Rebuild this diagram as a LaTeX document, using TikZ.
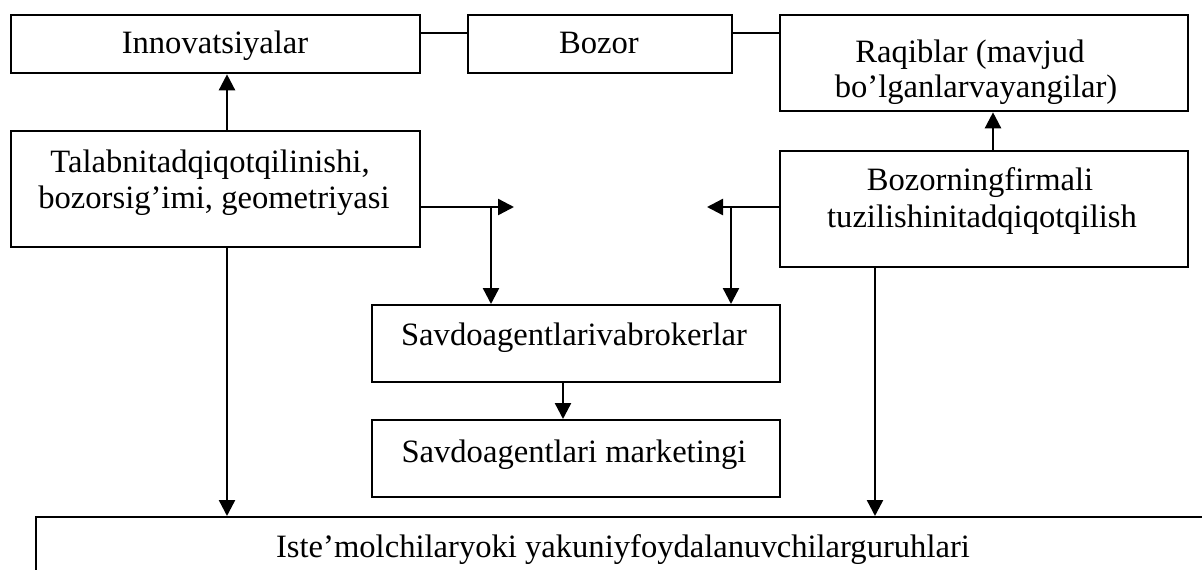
\documentclass[tikz,border=0pt]{standalone}
\usepackage{fontspec}
\setmainfont{Liberation Serif}
\usetikzlibrary{arrows.meta}
\tikzset{
  box/.style={draw=black, line width=2.3pt, rectangle, inner sep=0pt, anchor=north west},
  lbl/.style={anchor=base, inner sep=0pt, font=\fontsize{32.6}{39}\selectfont},
  conn/.style={draw=black, line width=2.4pt},
  arr/.style={conn, -{Triangle[length=16pt,width=16pt]}}
}
\begin{document}
\begin{tikzpicture}[x=1pt,y=-1pt]
\useasboundingbox (0,0) rectangle (1202,570);
\clip (0,0) rectangle (1202,570);
% boxes
\node[box, minimum width=409pt, minimum height=58pt] (inn) at (10,14) {};
\node[box, minimum width=264pt, minimum height=58pt] (boz) at (467,14) {};
\node[box, minimum width=408pt, minimum height=96pt] (raq) at (779,14) {};
\node[box, minimum width=409pt, minimum height=116pt] (tal) at (10,130) {};
\node[box, minimum width=408pt, minimum height=116pt] (bzf) at (779,150) {};
\node[box, minimum width=408pt, minimum height=77pt] (sav) at (371,304) {};
\node[box, minimum width=408pt, minimum height=77pt] (mkt) at (371,419) {};
\node[box, minimum width=1250pt, minimum height=120pt] (ist) at (35,516) {};
% texts
\node[lbl] (tinn) at (215,53) {Innovatsiyalar};
\node[lbl] (tboz) at (599,53) {Bozor};
\node[lbl] (traq1) at (970,62) {Raqiblar (mavjud};
\node[lbl] (traq2) at (976,97) {bo’lganlarvayangilar)};
\node[lbl] (ttal1) at (210,172) {Talabnitadqiqotqilinishi,};
\node[lbl] (ttal2) at (214,208) {bozorsig’imi, geometriyasi};
\node[lbl] (tbzf1) at (980,190) {Bozorningfirmali};
\node[lbl] (tbzf2) at (982,227) {tuzilishinitadqiqotqilish};
\node[lbl] (tsav) at (574,345) {Savdoagentlarivabrokerlar};
\node[lbl] (tmkt) at (574,462) {Savdoagentlari marketingi};
\node[lbl] (tist) at (623,557) {Iste’molchilaryoki yakuniyfoydalanuvchilarguruhlari};
% helper coordinates
\coordinate (ytop) at (0,33);
\coordinate (c1) at (227,0);
\coordinate (c2) at (993,0);
\coordinate (c3) at (875,0);
\coordinate (c4) at (563,0);
\coordinate (t1) at (514,207);
\coordinate (b1) at (491,207);
\coordinate (t2) at (707,207);
\coordinate (b2) at (731,207);
% connectors
\draw[conn] (inn.east |- ytop) -- (boz.west |- ytop);
\draw[conn] (boz.east |- ytop) -- (raq.west |- ytop);
\draw[arr] (tal.north -| c1) -- (inn.south -| c1);
\draw[arr] (bzf.north -| c2) -- (raq.south -| c2);
\draw[arr] (tal.south -| c1) -- (ist.north -| c1);
\draw[arr] (bzf.south -| c3) -- (ist.north -| c3);
\draw[arr] (tal.east |- t1) -- (t1);
\draw[arr] (b1) -- (b1 |- sav.north);
\draw[arr] (bzf.west |- t2) -- (t2);
\draw[arr] (b2) -- (b2 |- sav.north);
\draw[arr] (sav.south -| c4) -- (mkt.north -| c4);
\end{tikzpicture}
\end{document}
